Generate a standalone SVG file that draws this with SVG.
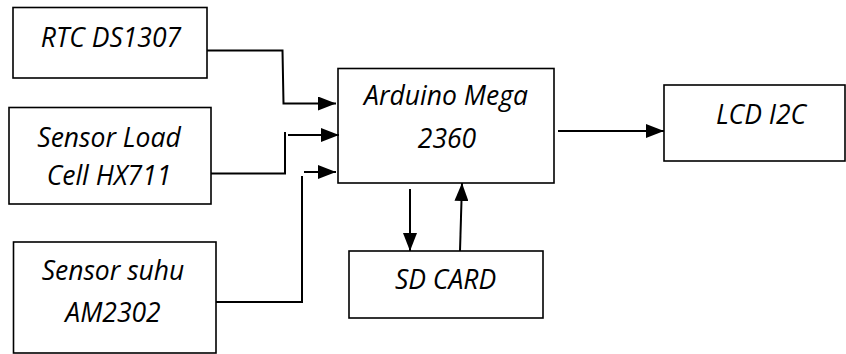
<svg xmlns="http://www.w3.org/2000/svg" width="846" height="354" viewBox="0 0 846 354">
<defs>
<marker id="ah" markerWidth="18" markerHeight="14" refX="18" refY="7" orient="auto" markerUnits="userSpaceOnUse">
<path d="M0,0 L18,7 L0,14 Z" fill="#000"/>
</marker>
<style>
.box{fill:#fff;stroke:#000;stroke-width:1.6}
.t{font-family:"Open Sans","Liberation Sans",sans-serif;font-style:italic;font-size:26.5px;fill:#000;text-anchor:middle}
.c{fill:none;stroke:#000;stroke-width:2}
</style>
</defs>
<rect width="846" height="354" fill="#fff"/>
<g id="rtc"><rect class="box" x="13" y="7.5" width="194" height="70.5"/><text class="t" x="111" y="47">RTC DS1307</text></g>
<g id="loadcell"><rect class="box" x="9" y="107.5" width="202" height="96.5"/><text class="t" x="109" y="147">Sensor Load</text><text class="t" x="109" y="185">Cell HX711</text></g>
<g id="suhu"><rect class="box" x="13.5" y="242" width="202.5" height="111"/><text class="t" x="113" y="280">Sensor suhu</text><text class="t" x="113" y="322">AM2302</text></g>
<g id="arduino"><rect class="box" x="338" y="68.5" width="216" height="114.5"/><text class="t" x="446" y="105">Arduino Mega</text><text class="t" x="447" y="148">2360</text></g>
<g id="lcd"><rect class="box" x="664" y="85" width="181" height="76"/><text class="t" x="761" y="124">LCD I2C</text></g>
<g id="sdcard"><rect class="box" x="349" y="251" width="194" height="67"/><text class="t" x="445.5" y="289">SD CARD</text></g>
<g id="connectors">
<path class="c" d="M207,50.5 H282.5 L283.5,103.5 H336" marker-end="url(#ah)"/>
<path class="c" d="M211,173.5 H285 V132"/>
<path class="c" d="M288,135 H339" marker-end="url(#ah)"/>
<path class="c" d="M216,302 H302 V176"/>
<path class="c" d="M304,172 H336" marker-end="url(#ah)"/>
<path class="c" d="M558,131 H664" marker-end="url(#ah)"/>
<path class="c" d="M410,189 V251" marker-end="url(#ah)"/>
<path class="c" d="M460,251 L462,183" marker-end="url(#ah)"/>
</g>
</svg>
